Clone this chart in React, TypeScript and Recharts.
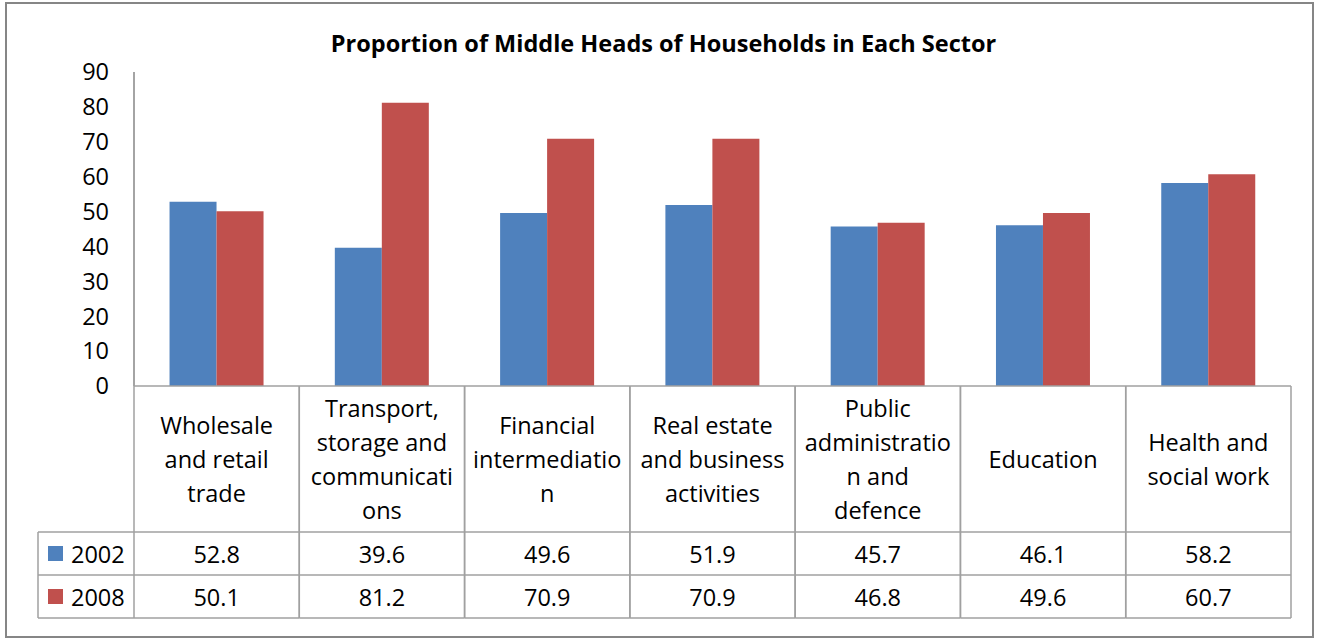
import React from 'react';
import { BarChart, Bar, XAxis, YAxis } from 'recharts';

const sectorLines: string[][] = [
  ['Wholesale', 'and retail', 'trade'],
  ['Transport,', 'storage and', 'communicati', 'ons'],
  ['Financial', 'intermediatio', 'n'],
  ['Real estate', 'and business', 'activities'],
  ['Public', 'administratio', 'n and', 'defence'],
  ['Education'],
  ['Health and', 'social work'],
];
const values2002 = [52.8, 39.6, 49.6, 51.9, 45.7, 46.1, 58.2];
const values2008 = [50.1, 81.2, 70.9, 70.9, 46.8, 49.6, 60.7];
const yTicks = [0, 10, 20, 30, 40, 50, 60, 70, 80, 90];

const data = sectorLines.map((lines, i) => ({
  sector: lines.join(' '),
  y2002: values2002[i],
  y2008: values2008[i],
}));

const W = 1321;
const H = 641;
const PLOT_LEFT = 134;
const PLOT_RIGHT = 30;
const CELL = (W - PLOT_LEFT - PLOT_RIGHT) / sectorLines.length;
const HEADER_H = 146;
const ROW_H = 43;
const LEGEND_W = 96;
const BLUE = '#4F81BD';
const RED = '#C0504D';
const LINE = '#A0A0A0';
const FONT = '"Open Sans", Lato, sans-serif';
const FS = 23.5;

const TableTick = (props: any) => {
  const { x, y, payload } = props;
  const i = payload.index;
  const left = x - CELL / 2;
  const right = x + CELL / 2;
  const lines = sectorLines[i];
  const mid = y + HEADER_H / 2;
  const lh = 34;
  const bottom = y + HEADER_H + ROW_H * 2;
  return (
    <g>
      <line x1={left} y1={y} x2={left} y2={bottom} stroke={LINE} strokeWidth={1.5} />
      <line x1={right} y1={y} x2={right} y2={bottom} stroke={LINE} strokeWidth={1.5} />
      <line x1={left} y1={y + HEADER_H} x2={right} y2={y + HEADER_H} stroke={LINE} strokeWidth={1.5} />
      <line x1={left} y1={y + HEADER_H + ROW_H} x2={right} y2={y + HEADER_H + ROW_H} stroke={LINE} strokeWidth={1.5} />
      <line x1={left} y1={bottom} x2={right} y2={bottom} stroke={LINE} strokeWidth={1.5} />
      {lines.map((t, k) => (
        <text key={k} x={x} y={mid + (k - (lines.length - 1) / 2) * lh} textAnchor="middle" dominantBaseline="central" fontSize={FS} fill="#000" fontFamily={FONT}>
          {t}
        </text>
      ))}
      <text x={x} y={y + HEADER_H + ROW_H / 2} textAnchor="middle" dominantBaseline="central" fontSize={FS} fill="#000" fontFamily={FONT}>
        {values2002[i]}
      </text>
      <text x={x} y={y + HEADER_H + ROW_H * 1.5} textAnchor="middle" dominantBaseline="central" fontSize={FS} fill="#000" fontFamily={FONT}>
        {values2008[i]}
      </text>
      {i === 0 && (
        <g>
          <line x1={left - LEGEND_W} y1={y + HEADER_H} x2={left} y2={y + HEADER_H} stroke={LINE} strokeWidth={1.5} />
          <line x1={left - LEGEND_W} y1={y + HEADER_H + ROW_H} x2={left} y2={y + HEADER_H + ROW_H} stroke={LINE} strokeWidth={1.5} />
          <line x1={left - LEGEND_W} y1={bottom} x2={left} y2={bottom} stroke={LINE} strokeWidth={1.5} />
          <line x1={left - LEGEND_W} y1={y + HEADER_H} x2={left - LEGEND_W} y2={bottom} stroke={LINE} strokeWidth={1.5} />
          <rect x={left - LEGEND_W + 10} y={y + HEADER_H + ROW_H / 2 - 7.5} width={15} height={15} fill={BLUE} />
          <text x={left - LEGEND_W + 33} y={y + HEADER_H + ROW_H / 2} dominantBaseline="central" fontSize={FS} fill="#000" fontFamily={FONT}>2002</text>
          <rect x={left - LEGEND_W + 10} y={y + HEADER_H + ROW_H * 1.5 - 7.5} width={15} height={15} fill={RED} />
          <text x={left - LEGEND_W + 33} y={y + HEADER_H + ROW_H * 1.5} dominantBaseline="central" fontSize={FS} fill="#000" fontFamily={FONT}>2008</text>
        </g>
      )}
    </g>
  );
};

export default function App() {
  return (
    <div style={{ position: 'absolute', left: 0, top: 0, width: W, height: H, background: '#fff' }}>
      <div style={{ position: 'absolute', left: 5, top: 2, width: W - 12, height: H - 5, border: '2px solid #868686', boxSizing: 'border-box' }} />
      <div style={{ position: 'absolute', left: 0, top: 28, width: W + 6, textAlign: 'center', fontFamily: FONT, fontWeight: 700, fontSize: 23.5, lineHeight: '30px', color: '#000' }}>
        Proportion of Middle Heads of Households in Each Sector
      </div>
      <div style={{ position: 'absolute', left: 0, top: 0 }}>
        <BarChart width={W} height={H} data={data} margin={{ top: 72, right: PLOT_RIGHT, bottom: 23, left: 0 }} barCategoryGap="21.5%" barGap={0}>
          <YAxis
            width={PLOT_LEFT}
            domain={[0, 90]}
            ticks={yTicks}
            interval={0}
            tickLine={false}
            tickSize={0}
            tickMargin={25}
            axisLine={{ stroke: '#868686', strokeWidth: 1.5 }}
            tick={{ fontSize: FS, fill: '#000', fontFamily: FONT }}
          />
          <XAxis
            dataKey="sector"
            height={232}
            interval={0}
            tickLine={false}
            tickSize={0}
            tickMargin={0}
            axisLine={{ stroke: LINE, strokeWidth: 1.5 }}
            tick={<TableTick />}
          />
          <Bar dataKey="y2002" fill={BLUE} isAnimationActive={false} />
          <Bar dataKey="y2008" fill={RED} isAnimationActive={false} />
        </BarChart>
      </div>
    </div>
  );
}
